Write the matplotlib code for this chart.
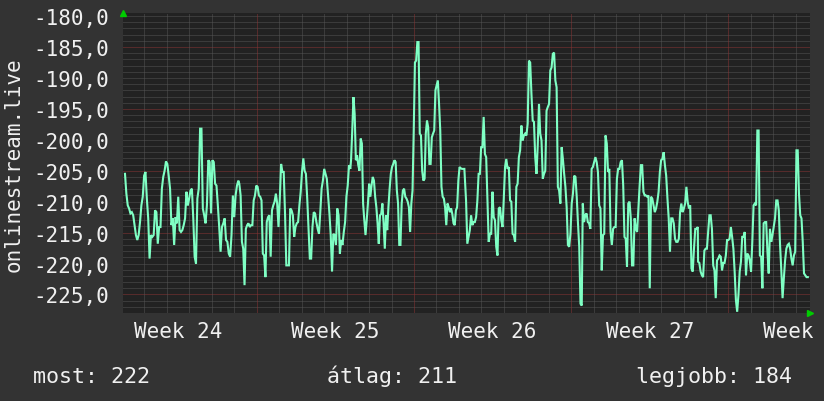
import numpy as np
import matplotlib
matplotlib.use("Agg")
import matplotlib.pyplot as plt

# ---- data ----
strip1 = [-205.5, -208.7, -210.6, -211.1, -211.9, -211.7, -212.2, -213.8, -215.4, -216.2,
          -215.4, -213.3, -210.6, -209.2, -205.8, -205.2, -209.5, -212.7, -219.2, -215.4,
          -215.7, -215.4, -211.4, -211.7, -216.8, -214.1, -214.1, -207.9, -206.0, -205.0,
          -203.5, -203.9, -205.8, -207.9, -213.8, -212.7, -217.0, -212.5, -213.5, -209.2,
          -214.6, -214.9, -214.6, -213.8, -212.7, -208.4, -210.6, -209.5, -208.2, -207.9,
          -212.7, -218.9, -220.0, -209.5, -207.9, -198.2, -198.2, -211.1, -212.2, -213.5,
          -210.6, -203.3, -203.6, -211.9, -203.3, -203.6, -207.1, -207.4, -210.6, -214.1,
          -218.1, -214.1, -213.5, -212.7, -216.2, -216.5, -218.4, -218.9, -215.4, -209.0,
          -212.5, -209.0, -207.4, -206.6]
strip2 = [-207.1, -209.0, -216.5, -217.6, -223.5, -214.4, -213.8, -213.5, -214.1, -213.8,
          -213.8, -209.8, -209.0, -207.4, -207.6, -209.0, -209.2, -209.8, -218.4, -218.7,
          -222.2, -213.3, -212.5, -212.2, -218.9, -211.4, -210.6, -210.0, -208.7, -210.3,
          -214.1, -209.5, -203.9, -205.2, -205.2, -211.9, -220.3, -220.3, -220.3, -211.1,
          -211.4, -212.2, -215.7, -214.1, -213.5, -213.3, -210.6, -208.4, -205.2, -203.0,
          -205.0, -205.5, -209.5, -214.4, -219.2, -219.2, -214.1, -211.7, -211.9, -213.3,
          -214.4, -215.2, -211.7, -207.9, -206.6, -204.7, -205.5, -206.3, -209.2, -211.9,
          -215.4, -221.3, -215.2, -215.4, -217.0, -211.1, -212.2, -218.4, -216.2, -217.0,
          -214.9, -213.3, -209.2, -207.4, -204.1, -204.7]
strip3 = [-203.3, -198.5, -193.1, -195.8, -203.3, -202.5, -204.1, -205.0, -199.8, -200.6,
          -210.3, -213.0, -215.4, -213.0, -210.3, -207.1, -209.2, -207.4, -206.0, -206.6,
          -209.2, -210.9, -213.5, -216.8, -212.2, -212.0, -210.3, -213.5, -217.6, -212.2,
          -214.6, -210.9, -207.9, -205.5, -204.4, -203.9, -203.3, -203.6, -208.2, -210.3,
          -217.0, -217.0, -210.3, -208.2, -207.9, -209.2, -209.5, -210.0, -210.9, -214.9,
          -210.3, -208.2, -198.5, -187.5, -187.2, -184.2, -184.2, -199.0, -199.3, -205.0,
          -206.6, -206.3, -199.0, -196.9, -198.0, -203.9, -203.9, -199.6, -199.0, -198.5,
          -192.0, -191.2, -190.4, -194.2, -198.5, -207.6, -209.2, -209.5, -210.9, -213.8,
          -210.3, -210.9, -211.7, -211.1, -212.0, -213.5, -213.8, -211.4, -210.9, -206.6,
          -204.4, -204.6, -204.7, -204.7, -204.7]
strip4 = [-209.8, -216.8, -215.7, -214.6, -212.2, -213.8, -213.3, -213.3, -212.5, -209.8,
          -205.5, -205.5, -201.2, -201.2, -196.3, -202.3, -202.8, -209.8, -216.5, -215.2,
          -215.2, -208.4, -212.5, -213.0, -217.3, -218.7, -211.1, -210.9, -213.0, -214.1,
          -209.5, -204.4, -203.1, -204.7, -204.4, -209.8, -210.0, -215.2, -215.4, -216.5,
          -207.6, -207.1, -202.8, -201.7, -197.7, -200.1, -199.3, -199.0, -199.3, -197.4,
          -187.2, -187.5, -192.6, -196.9, -197.1, -202.8, -205.5, -200.9, -194.2, -199.0,
          -200.1, -206.3, -205.5, -205.0, -195.3, -194.7, -194.2, -188.8, -188.3, -186.1,
          -185.9, -190.4, -191.5, -207.6, -208.2, -210.3, -201.2, -203.1, -205.5, -207.6,
          -210.9, -217.0, -217.3, -215.2, -210.3, -208.7, -205.8, -206.0, -209.2, -213.5,
          -217.3, -226.5, -226.8]
strip5 = [-210.3, -213.3, -212.2, -211.9, -213.3, -213.5, -214.4, -204.7, -204.4, -203.6,
          -202.8, -203.6, -205.2, -210.6, -211.1, -221.1, -215.4, -215.2, -199.3, -200.6,
          -205.2, -204.7, -214.9, -217.0, -214.4, -214.1, -214.1, -206.3, -204.7, -204.7,
          -203.6, -203.3, -207.4, -215.7, -216.0, -220.5, -210.3, -210.0, -212.7, -220.3,
          -220.3, -212.7, -214.4, -214.9, -211.1, -207.4, -204.1, -204.1, -208.4, -209.0,
          -209.0, -209.2, -209.0, -224.0, -209.2, -209.5, -210.6, -211.7, -211.1, -210.0,
          -208.4, -205.2, -203.3, -203.1, -202.0, -204.1, -205.8, -209.5, -212.7, -218.1,
          -212.7, -212.7, -213.5, -216.0, -216.5, -216.5, -216.0, -211.7, -210.3, -211.7,
          -211.1, -210.3, -207.6, -210.0, -211.1, -210.6, -220.8, -221.3, -217.6, -214.4,
          -214.4, -214.1]
strip6 = [-219.7, -219.9, -221.3, -221.9, -222.2, -217.9, -217.6, -217.6, -214.9, -212.2,
          -212.2, -214.4, -220.3, -221.1, -225.6, -219.5, -219.2, -218.7, -218.9, -221.1,
          -219.9, -219.9, -218.7, -216.2, -216.2, -216.0, -214.1, -215.7, -217.6, -221.3,
          -225.9, -227.8, -225.1, -221.3, -219.7, -215.7, -215.7, -214.9, -221.9, -218.4,
          -218.7, -219.5, -221.3, -216.5, -210.6, -210.3, -210.6, -198.5, -198.5, -218.7,
          -218.9, -224.0, -213.5, -213.3, -213.3, -218.1, -221.6, -214.4, -216.5, -215.4,
          -214.1, -212.7, -209.8, -209.8, -211.4, -217.0, -221.1, -225.6, -222.4, -219.5,
          -217.6, -217.0, -216.8, -217.6, -219.2, -220.3, -218.7, -218.1, -201.7, -201.7,
          -208.7, -212.2, -212.7, -216.5, -221.6, -221.9, -222.2, -222.2]

# time span of each strip, in days since Monday of week 24
strip_start_day = [1.135, 6.224, 11.198, 16.318, 21.514, 26.647]
strip_end_day = [6.180, 11.166, 16.243, 21.469, 26.634, 31.532]

y_ticks = [-180, -185, -190, -195, -200, -205, -210, -215, -220, -225]
week_labels = ["Week 24", "Week 25", "Week 26", "Week 27", "Week 28"]
week_centers = [3.5, 10.5, 17.5, 24.5, 31.5]
y_axis_title = "onlinestream.live"
summary = ["most: 222", "átlag: 211", "legjobb: 184"]

# ---- style ----
FIG_BG = "#333333"
AX_BG = "#222222"
TXT = "#f0f0f0"
LINE = "#7fffc4"
MINOR = "#555555"
MAJOR = "#8a3434"
MONO = "DejaVu Sans Mono"

fig = plt.figure(figsize=(8.24, 4.02), dpi=100, facecolor=FIG_BG)
W, H = 824, 402
ax = fig.add_axes([123 / W, 1 - 314 / H, (810 - 123) / W, 300 / H], facecolor=AX_BG)
ax.set_xlim(1.046, 31.63)
ax.set_ylim(-228, -179.5)

# grid
dot = (0, (1, 1))
for v in range(-227, -179):
    major = (v + 185) % 10 == 0
    ax.axhline(v, color=MAJOR if major else MINOR, lw=0.72, ls=dot, zorder=1)
for d in range(2, 32):
    major = d % 7 == 0
    ax.axvline(d, color=MAJOR if major else MINOR, lw=0.72, ls=dot, zorder=1)

# series
strips = [strip1, strip2, strip3, strip4, strip5, strip6]
t_all, v_all = [], []
for vals, s, e in zip(strips, strip_start_day, strip_end_day):
    t_all.append(np.linspace(s, e, len(vals)))
    v_all.append(np.array(vals))
t_all = np.concatenate(t_all)
v_all = np.concatenate(v_all)
ax.plot(t_all, v_all, color=LINE, lw=1.5, zorder=3, solid_joinstyle="miter")

for sp in ax.spines.values():
    sp.set_visible(False)

ax.set_yticks(y_ticks)
ax.set_yticklabels([f"{v:.1f}".replace(".", ",") for v in y_ticks])
ax.set_xticks(week_centers)
ax.set_xticklabels(week_labels)
ax.tick_params(axis="both", length=0, colors=TXT, labelsize=15)
ax.tick_params(axis="y", pad=10)
ax.tick_params(axis="x", pad=6)
for lab in ax.get_xticklabels() + ax.get_yticklabels():
    lab.set_fontfamily(MONO)

# arrows
ax.plot([0.0], [1.0], marker="^", color="#00cc00", markersize=5, transform=ax.transAxes,
        clip_on=False, zorder=5)
ax.plot([1.0], [0.0], marker=">", color="#00cc00", markersize=5, transform=ax.transAxes,
        clip_on=False, zorder=5)

fig.text(14 / W, 1 - 165 / H, y_axis_title, rotation=90, ha="center", va="center",
         color=TXT, fontsize=15, family=MONO)

xs = [33, 327, 636]
for s, x in zip(summary, xs):
    fig.text(x / W, 1 - 383 / H, s, ha="left", va="baseline", color=TXT, fontsize=15.6,
             family=MONO)

fig.savefig("out.png", dpi=100, facecolor=FIG_BG)
